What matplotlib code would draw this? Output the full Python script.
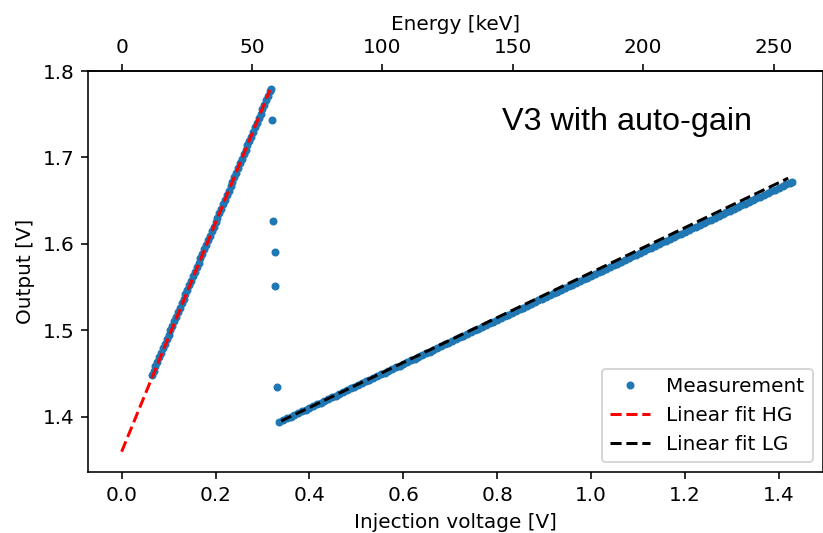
import matplotlib
matplotlib.use("Agg")
import matplotlib.pyplot as plt

# High-gain measurement points
hg_x = [0.064, 0.068, 0.072, 0.076, 0.080, 0.084, 0.088, 0.092, 0.096, 0.100,
        0.104, 0.108, 0.112, 0.116, 0.120, 0.124, 0.128, 0.132, 0.136, 0.140,
        0.144, 0.148, 0.152, 0.156, 0.160, 0.164, 0.168, 0.172, 0.176, 0.180,
        0.184, 0.188, 0.192, 0.196, 0.200, 0.204, 0.208, 0.212, 0.216, 0.220,
        0.224, 0.228, 0.232, 0.236, 0.240, 0.244, 0.248, 0.252, 0.256, 0.260,
        0.264, 0.268, 0.272, 0.276, 0.280, 0.284, 0.288, 0.292, 0.296, 0.300,
        0.304, 0.308, 0.312, 0.316, 0.318]
hg_y = [1.4480, 1.4532, 1.4584, 1.4636, 1.4688, 1.4741, 1.4793, 1.4845, 1.4897, 1.4949,
        1.5001, 1.5053, 1.5105, 1.5158, 1.5210, 1.5262, 1.5314, 1.5366, 1.5418, 1.5470,
        1.5522, 1.5575, 1.5627, 1.5679, 1.5731, 1.5783, 1.5835, 1.5887, 1.5939, 1.5991,
        1.6044, 1.6096, 1.6148, 1.6200, 1.6252, 1.6304, 1.6356, 1.6408, 1.6461, 1.6513,
        1.6565, 1.6617, 1.6669, 1.6721, 1.6773, 1.6825, 1.6878, 1.6930, 1.6982, 1.7034,
        1.7086, 1.7138, 1.7190, 1.7242, 1.7294, 1.7347, 1.7399, 1.7451, 1.7503, 1.7555,
        1.7607, 1.7659, 1.7711, 1.7764, 1.7790]

# Transition points (gain switching)
trans_x = [0.320, 0.323, 0.327, 0.327, 0.330]
trans_y = [1.743, 1.627, 1.590, 1.551, 1.434]

# Low-gain measurement points
lg_x = [0.336, 0.344, 0.352, 0.360, 0.368, 0.376, 0.384, 0.392, 0.400, 0.408,
        0.416, 0.424, 0.432, 0.440, 0.448, 0.456, 0.464, 0.472, 0.480, 0.488,
        0.496, 0.504, 0.512, 0.520, 0.528, 0.536, 0.544, 0.552, 0.560, 0.568,
        0.576, 0.584, 0.592, 0.600, 0.608, 0.616, 0.624, 0.632, 0.640, 0.648,
        0.656, 0.664, 0.672, 0.680, 0.688, 0.696, 0.704, 0.712, 0.720, 0.728,
        0.736, 0.744, 0.752, 0.760, 0.768, 0.776, 0.784, 0.792, 0.800, 0.808,
        0.816, 0.824, 0.832, 0.840, 0.848, 0.856, 0.864, 0.872, 0.880, 0.888,
        0.896, 0.904, 0.912, 0.920, 0.928, 0.936, 0.944, 0.952, 0.960, 0.968,
        0.976, 0.984, 0.992, 1.000, 1.008, 1.016, 1.024, 1.032, 1.040, 1.048,
        1.056, 1.064, 1.072, 1.080, 1.088, 1.096, 1.104, 1.112, 1.120, 1.128,
        1.136, 1.144, 1.152, 1.160, 1.168, 1.176, 1.184, 1.192, 1.200, 1.208,
        1.216, 1.224, 1.232, 1.240, 1.248, 1.256, 1.264, 1.272, 1.280, 1.288,
        1.296, 1.304, 1.312, 1.320, 1.328, 1.336, 1.344, 1.352, 1.360, 1.368,
        1.376, 1.384, 1.392, 1.400, 1.408, 1.416, 1.424, 1.428]
lg_y = [1.3940, 1.3960, 1.3981, 1.4001, 1.4021, 1.4042, 1.4062, 1.4083, 1.4103, 1.4123,
        1.4144, 1.4164, 1.4184, 1.4205, 1.4225, 1.4245, 1.4266, 1.4286, 1.4306, 1.4327,
        1.4347, 1.4368, 1.4388, 1.4408, 1.4429, 1.4449, 1.4469, 1.4490, 1.4510, 1.4530,
        1.4551, 1.4571, 1.4592, 1.4612, 1.4632, 1.4653, 1.4673, 1.4693, 1.4714, 1.4734,
        1.4754, 1.4775, 1.4795, 1.4815, 1.4836, 1.4856, 1.4877, 1.4897, 1.4917, 1.4938,
        1.4958, 1.4978, 1.4999, 1.5019, 1.5039, 1.5060, 1.5080, 1.5101, 1.5121, 1.5141,
        1.5162, 1.5182, 1.5202, 1.5223, 1.5243, 1.5263, 1.5284, 1.5304, 1.5324, 1.5345,
        1.5365, 1.5386, 1.5406, 1.5426, 1.5447, 1.5467, 1.5487, 1.5508, 1.5528, 1.5548,
        1.5569, 1.5589, 1.5610, 1.5630, 1.5650, 1.5671, 1.5691, 1.5711, 1.5732, 1.5752,
        1.5772, 1.5793, 1.5813, 1.5833, 1.5854, 1.5874, 1.5895, 1.5915, 1.5935, 1.5956,
        1.5976, 1.5996, 1.6017, 1.6037, 1.6057, 1.6078, 1.6098, 1.6119, 1.6139, 1.6159,
        1.6180, 1.6200, 1.6220, 1.6241, 1.6261, 1.6281, 1.6302, 1.6322, 1.6342, 1.6363,
        1.6383, 1.6404, 1.6424, 1.6444, 1.6465, 1.6485, 1.6505, 1.6526, 1.6546, 1.6566,
        1.6587, 1.6607, 1.6628, 1.6648, 1.6668, 1.6689, 1.6709, 1.6720]

# Linear fits (end points)
fit_hg_x = [0.0, 0.316]
fit_hg_y = [1.3595, 1.778]
fit_lg_x = [0.34, 1.42]
fit_lg_y = [1.395, 1.676]

kev_per_volt = 180.0

meas_x = hg_x + trans_x + lg_x
meas_y = hg_y + trans_y + lg_y

DPI = 144
fig = plt.figure(figsize=(823 / DPI, 533 / DPI), dpi=DPI)
ax = fig.add_axes([88.3 / 823, 1 - 472 / 533, (822.5 - 88.3) / 823, (472 - 71) / 533])

ax.plot(meas_x, meas_y, '.', color='#1f77b4', label='Measurement')
ax.plot(fit_hg_x, fit_hg_y, '--', color='red', label='Linear fit HG')
ax.plot(fit_lg_x, fit_lg_y, '--', color='black', label='Linear fit LG')

ax.set_xlim(-0.071, 1.493)
ax.set_ylim(1.336, 1.8)
ax.set_yticks([1.4, 1.5, 1.6, 1.7, 1.8])
ax.set_xticks([0.0, 0.2, 0.4, 0.6, 0.8, 1.0, 1.2, 1.4])
ax.set_xlabel('Injection voltage [V]')
ax.set_ylabel('Output [V]')

sec = ax.secondary_xaxis('top', functions=(lambda v: v * kev_per_volt,
                                            lambda e: e / kev_per_volt))
sec.set_xticks([0, 50, 100, 150, 200, 250])
sec.set_xlabel('Energy [keV]')

ax.legend(loc='lower right')

ax.text(0.564, 0.873, 'V3 with auto-gain', transform=ax.transAxes,
        ha='left', va='center', fontsize=16.2, family=['Liberation Sans', 'DejaVu Sans'])

fig.savefig('out.png', dpi=DPI)
